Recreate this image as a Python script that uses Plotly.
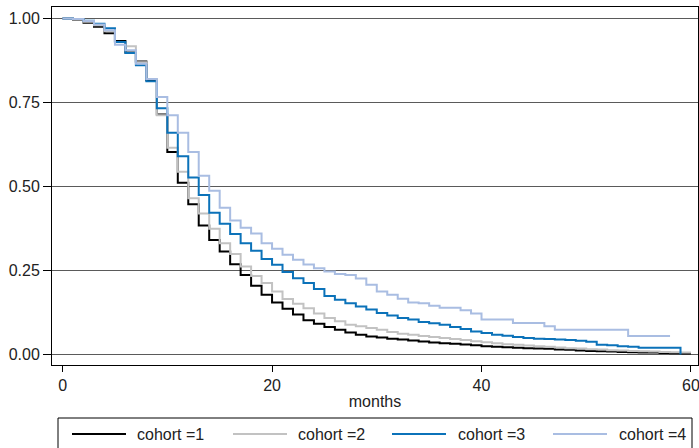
import plotly.graph_objects as go

# Kaplan-Meier survival estimates by month (value holds on [m, m+1))
cohort1 = [1.0, 0.996, 0.987, 0.975, 0.956, 0.933, 0.899, 0.872, 0.816, 0.714,
           0.603, 0.511, 0.447, 0.384, 0.341, 0.307, 0.269, 0.237, 0.205, 0.178,
           0.155, 0.136, 0.119, 0.102, 0.092, 0.082, 0.074, 0.066, 0.059, 0.054,
           0.051, 0.047, 0.045, 0.042, 0.039, 0.036, 0.034, 0.032, 0.030, 0.028,
           0.025, 0.023, 0.022, 0.020, 0.019, 0.018, 0.017, 0.015, 0.014, 0.012,
           0.011, 0.010, 0.009, 0.008, 0.007, 0.006, 0.006, 0.005, 0.004, 0.003]
cohort1_end = 60

cohort2 = [1.0, 0.997, 0.990, 0.980, 0.962, 0.930, 0.917, 0.870, 0.820, 0.712,
           0.615, 0.544, 0.465, 0.420, 0.374, 0.331, 0.299, 0.262, 0.234, 0.213,
           0.188, 0.165, 0.151, 0.138, 0.122, 0.109, 0.099, 0.089, 0.084, 0.079,
           0.074, 0.067, 0.062, 0.059, 0.055, 0.052, 0.049, 0.046, 0.043, 0.040,
           0.037, 0.034, 0.031, 0.029, 0.027, 0.025, 0.023, 0.021, 0.019, 0.018,
           0.016, 0.015, 0.013, 0.012, 0.011, 0.010, 0.009, 0.008, 0.007, 0.006]
cohort2_end = 60

cohort3 = [1.0, 0.998, 0.993, 0.984, 0.971, 0.930, 0.897, 0.861, 0.813, 0.733,
           0.660, 0.590, 0.527, 0.475, 0.422, 0.389, 0.359, 0.331, 0.309, 0.284,
           0.267, 0.246, 0.227, 0.213, 0.195, 0.174, 0.163, 0.153, 0.143, 0.134,
           0.124, 0.116, 0.109, 0.104, 0.097, 0.093, 0.089, 0.082, 0.076, 0.069,
           0.064, 0.059, 0.056, 0.052, 0.049, 0.047, 0.046, 0.045, 0.043, 0.041,
           0.038, 0.029, 0.028, 0.025, 0.023, 0.020, 0.020, 0.020, 0.020, 0.0]
cohort3_end = 59

cohort4 = [1.0, 0.998, 0.992, 0.982, 0.965, 0.922, 0.905, 0.865, 0.820, 0.766,
           0.712, 0.660, 0.603, 0.532, 0.487, 0.437, 0.399, 0.377, 0.360, 0.331,
           0.315, 0.297, 0.282, 0.268, 0.257, 0.247, 0.240, 0.237, 0.226, 0.208,
           0.188, 0.178, 0.166, 0.155, 0.153, 0.145, 0.139, 0.139, 0.132, 0.122,
           0.104, 0.104, 0.104, 0.094, 0.094, 0.094, 0.084, 0.074, 0.074, 0.074,
           0.074, 0.074, 0.074, 0.074, 0.055, 0.055, 0.055, 0.055]
cohort4_end = 58

names = ["cohort =1", "cohort =2", "cohort =3", "cohort =4"]
colors = ["#000000", "#c2c2c2", "#0b72b9", "#a9bde2"]
x_ticks = [0, 20, 40, 60]
y_ticks = [0.0, 0.25, 0.5, 0.75, 1.0]
y_tick_labels = ["0.00", "0.25", "0.50", "0.75", "1.00"]

series = [(cohort1, cohort1_end), (cohort2, cohort2_end),
          (cohort3, cohort3_end), (cohort4, cohort4_end)]

W, H = 699, 448
ML, MR, MT, MB = 52, 1, 7, 83
PW, PH = W - ML - MR, H - MT - MB


def px_x(p):
    return (p - ML) / PW


def px_y(p):
    return (H - MB - p) / PH


fig = go.Figure()
for (vals, end), name, col in zip(series, names, colors):
    xs = list(range(len(vals)))
    ys = list(vals)
    if end > len(vals) - 1:
        xs = xs + [end]
        ys = ys + [vals[-1]]
    fig.add_trace(go.Scatter(x=xs, y=ys, mode="lines", name=name,
                             line=dict(color=col, width=2, shape="hv"),
                             showlegend=False))

font_family = "Liberation Sans, Arial, sans-serif"

# legend drawn as a framed key below the plot
shapes = [dict(type="rect", xref="paper", yref="paper",
               x0=px_x(58), x1=px_x(692), y0=px_y(460), y1=px_y(418),
               line=dict(color="#000", width=1), fillcolor="white", layer="above")]
annotations = []
line_starts = [72, 233, 392, 553]
text_starts = [135, 296, 456, 617]
for name, col, ls, ts in zip(names, colors, line_starts, text_starts):
    shapes.append(dict(type="line", xref="paper", yref="paper",
                       x0=px_x(ls), x1=px_x(ls + 54), y0=px_y(434), y1=px_y(434),
                       line=dict(color=col, width=2), layer="above"))
    annotations.append(dict(text=name, xref="paper", yref="paper",
                            x=px_x(ts), y=px_y(434), xanchor="left", yanchor="middle",
                            showarrow=False, font=dict(size=16, color="#222")))

fig.update_layout(
    width=W, height=H,
    margin=dict(l=ML, r=MR, t=MT, b=MB, autoexpand=False),
    paper_bgcolor="white", plot_bgcolor="white",
    font=dict(family=font_family, size=16, color="#222"),
    showlegend=False,
    shapes=shapes, annotations=annotations,
    xaxis=dict(range=[-1.01, 60.67], tickvals=x_ticks, ticks="outside", ticklen=6,
               tickcolor="#000", showgrid=False, zeroline=False,
               showline=True, linecolor="#000", linewidth=1, mirror=True,
               ticklabeloverflow="allow",
               title=dict(text="months", standoff=2, font=dict(size=16))),
    yaxis=dict(range=[-0.031, 1.034], tickvals=y_ticks, ticktext=y_tick_labels,
               ticks="outside", ticklen=8, tickcolor="#000",
               showgrid=True, gridcolor="#5a5a5a", gridwidth=1, zeroline=False,
               showline=True, linecolor="#000", linewidth=1, mirror=True),
)

fig.write_html("out.html", config={"displayModeBar": False},
               post_script="document.body.style.margin='0';")
